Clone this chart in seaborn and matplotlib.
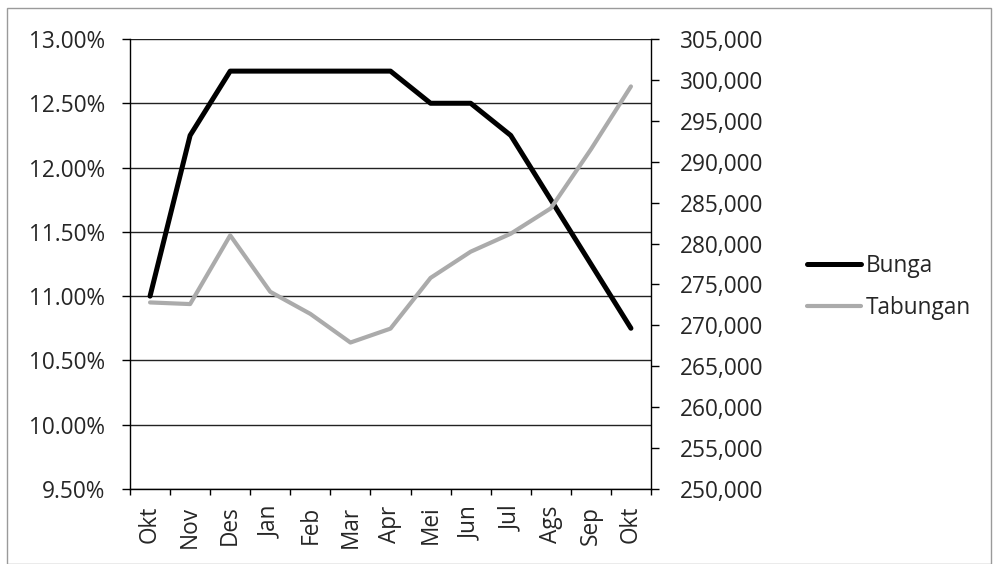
import numpy as np
import pandas as pd
import matplotlib.pyplot as plt
import seaborn as sns
from matplotlib.ticker import FuncFormatter, MultipleLocator, FixedLocator
from matplotlib.patches import Rectangle

# data
bulan = ["Okt", "Nov", "Des", "Jan", "Feb", "Mar", "Apr", "Mei", "Jun", "Jul", "Ags", "Sep", "Okt"]
bunga = [11.00, 12.25, 12.75, 12.75, 12.75, 12.75, 12.75, 12.50, 12.50, 12.25, 11.75, 11.25, 10.75]
tabungan = [272800, 272600, 281000, 274100, 271400, 267900, 269600, 275800, 279000, 281200, 284300, 291500, 299200]

df = pd.DataFrame({"pos": np.arange(len(bulan)), "bulan": bulan,
                   "bunga": bunga, "tabungan": tabungan})

sns.set_theme(style="white")
plt.rcParams['font.family'] = ['Open Sans', 'DejaVu Sans']
fs = 16.3

fig = plt.figure(figsize=(9.94, 5.64), dpi=100)
ax = fig.add_axes([0.1308, 0.133, 0.5241, 0.7979])
ax2 = ax.twinx()

# outer chart border
fig.patches.append(Rectangle((0.007, 0.0), 0.99, 0.986, transform=fig.transFigure,
                             fill=False, edgecolor="#9a9a9a", linewidth=1.0))

sns.lineplot(data=df, x="pos", y="bunga", ax=ax, color="black", linewidth=3.6,
             sort=False, label="Bunga", legend=False, zorder=3)
sns.lineplot(data=df, x="pos", y="tabungan", ax=ax2, color="#ababab", linewidth=3.0,
             sort=False, label="Tabungan", legend=False, zorder=3)

# left axis
ax.set_ylim(9.5, 13.0)
ax.yaxis.set_major_locator(MultipleLocator(0.5))
ax.yaxis.set_major_formatter(FuncFormatter(lambda v, p: f"{v:.2f}%"))
ax.grid(axis="y", color="#222222", linewidth=1.0)
ax.set_axisbelow(True)

# right axis
ax2.set_ylim(250000, 305000)
ax2.yaxis.set_major_locator(MultipleLocator(5000))
ax2.yaxis.set_major_formatter(FuncFormatter(lambda v, p: f"{int(v):,}"))
ax2.grid(False)

# x axis: labels at points, tick marks at category boundaries
ax.set_xlim(-0.5, len(bulan) - 0.5)
ax.set_xticks(df["pos"])
ax.set_xticklabels(bulan, rotation=90)
ax.xaxis.set_minor_locator(FixedLocator(np.arange(-0.5, len(bulan), 1.0)))
ax.tick_params(axis="x", which="major", length=0, pad=12, labelsize=fs)
ax.tick_params(axis="x", which="minor", length=4.5, width=1, color="black", direction="out", bottom=True)
ax.tick_params(axis="y", length=6, width=1, color="black", direction="out", left=True, labelsize=fs, pad=12)
ax2.tick_params(axis="y", length=6, width=1, color="black", direction="out", right=True, labelsize=fs, pad=15)

ax.set_xlabel("")
ax.set_ylabel("")
ax2.set_ylabel("")

for a in (ax, ax2):
    for s in a.spines.values():
        s.set_visible(False)
ax.spines["left"].set_visible(True)
ax.spines["left"].set_color("black")
ax.spines["bottom"].set_visible(True)
ax.spines["bottom"].set_color("black")
ax2.spines["right"].set_visible(True)
ax2.spines["right"].set_color("black")
for s in ("left", "bottom"):
    ax.spines[s].set_linewidth(1)
ax2.spines["right"].set_linewidth(1)

# legend to the right of the plot
h1, l1 = ax.get_legend_handles_labels()
h2, l2 = ax2.get_legend_handles_labels()
fig.legend(h1 + h2, l1 + l2, loc="center left", bbox_to_anchor=(0.812, 0.491),
           frameon=False, fontsize=fs, handlelength=2.4, handletextpad=0.2,
           labelspacing=0.8, borderaxespad=0, borderpad=0)

fig.savefig("out.png", dpi=100)
